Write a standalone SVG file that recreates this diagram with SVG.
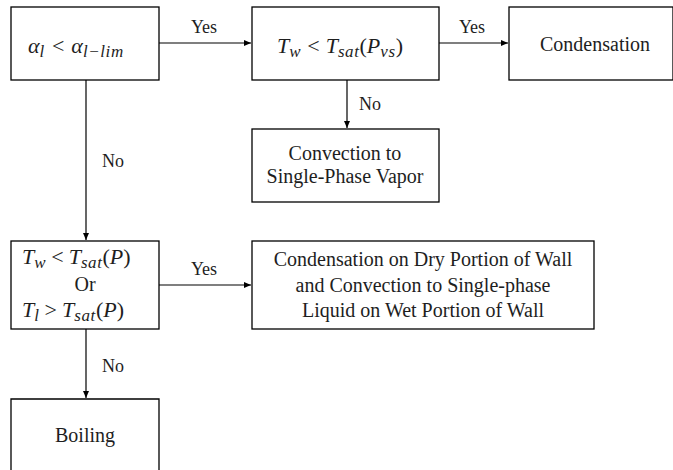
<svg xmlns="http://www.w3.org/2000/svg" width="673" height="470" viewBox="0 0 673 470">
  <style>
    .box { fill: #ffffff; stroke: #000000; stroke-width: 1.3; }
    .line { fill: none; stroke: #000000; stroke-width: 1.2; }
    .txt { font-family: "Liberation Serif", "Tinos", "Times New Roman", "DejaVu Serif", serif; font-size: 20px; fill: #1e1e1e; text-anchor: middle; }
    .lbl { font-family: "Liberation Serif", "Tinos", "Times New Roman", "DejaVu Serif", serif; font-size: 18px; fill: #1e1e1e; text-anchor: middle; }
    .math { font-family: "Liberation Serif", "Tinos", "Times New Roman", "DejaVu Serif", serif; font-style: italic; font-size: 22px; fill: #1e1e1e; }
    .up { font-style: normal; }
    .sub { font-size: 17px; letter-spacing: 0.6px; }
  </style>
  <defs>
    <marker id="arrow" markerWidth="8" markerHeight="8" refX="7" refY="4" orient="auto" markerUnits="userSpaceOnUse">
      <path d="M0,1 L7,4 L0,7 Z" fill="#000000"/>
    </marker>
  </defs>

  <g id="connectors">
    <line class="line" x1="159" y1="43" x2="251" y2="43" marker-end="url(#arrow)"/>
    <text class="lbl" x="204" y="33">Yes</text>
    <line class="line" x1="439" y1="43" x2="508" y2="43" marker-end="url(#arrow)"/>
    <text class="lbl" x="472" y="33">Yes</text>
    <line class="line" x1="347" y1="80" x2="347" y2="128" marker-end="url(#arrow)"/>
    <text class="lbl" x="370" y="110">No</text>
    <line class="line" x1="86" y1="80" x2="86" y2="240" marker-end="url(#arrow)"/>
    <text class="lbl" x="113" y="167">No</text>
    <line class="line" x1="159" y1="285" x2="251" y2="285" marker-end="url(#arrow)"/>
    <text class="lbl" x="204" y="275">Yes</text>
    <line class="line" x1="86" y1="329" x2="86" y2="398" marker-end="url(#arrow)"/>
    <text class="lbl" x="113" y="372">No</text>
  </g>

  <g id="check-alpha">
    <rect class="box" x="11" y="7" width="148" height="73"/>
    <text class="math" x="28" y="53">α<tspan class="sub" dy="4">l</tspan><tspan class="up" dx="7" dy="-4">&lt;</tspan><tspan dx="7">α</tspan><tspan class="sub" dy="4">l−lim</tspan></text>
  </g>

  <g id="check-tw-pvs">
    <rect class="box" x="252" y="7" width="187" height="73"/>
    <text class="math" x="277" y="53">T<tspan class="sub" dy="4">w</tspan><tspan class="up" dx="6" dy="-4">&lt;</tspan><tspan dx="6">T</tspan><tspan class="sub" dy="4">sat</tspan><tspan class="up" dy="-4">(</tspan>P<tspan class="sub" dy="4">vs</tspan><tspan class="up" dy="-4">)</tspan></text>
  </g>

  <g id="condensation">
    <rect class="box" x="509" y="7" width="164" height="73"/>
    <text class="txt" x="595" y="51">Condensation</text>
  </g>

  <g id="convection-vapor">
    <rect class="box" x="252" y="129" width="187" height="73"/>
    <text class="txt" x="345" y="160">Convection to</text>
    <text class="txt" x="345" y="183">Single-Phase Vapor</text>
  </g>

  <g id="check-tw-tl">
    <rect class="box" x="11" y="241" width="148" height="88"/>
    <text class="math" x="22" y="264">T<tspan class="sub" dy="4">w</tspan><tspan class="up" dx="5" dy="-4">&lt;</tspan><tspan dx="5">T</tspan><tspan class="sub" dy="4">sat</tspan><tspan class="up" dy="-4">(</tspan>P<tspan class="up">)</tspan></text>
    <text class="txt" x="85" y="291">Or</text>
    <text class="math" x="22" y="317">T<tspan class="sub" dy="4">l</tspan><tspan class="up" dx="5" dy="-4">&gt;</tspan><tspan dx="5">T</tspan><tspan class="sub" dy="4">sat</tspan><tspan class="up" dy="-4">(</tspan>P<tspan class="up">)</tspan></text>
  </g>

  <g id="mixed-wall">
    <rect class="box" x="252" y="241" width="342" height="88"/>
    <text class="txt" x="423" y="266">Condensation on Dry Portion of Wall</text>
    <text class="txt" x="423" y="292">and Convection to Single-phase</text>
    <text class="txt" x="423" y="317">Liquid on Wet Portion of Wall</text>
  </g>

  <g id="boiling">
    <path class="box" d="M11,471 L11,399 L159,399 L159,471"/>
    <text class="txt" x="85" y="442">Boiling</text>
  </g>
</svg>
